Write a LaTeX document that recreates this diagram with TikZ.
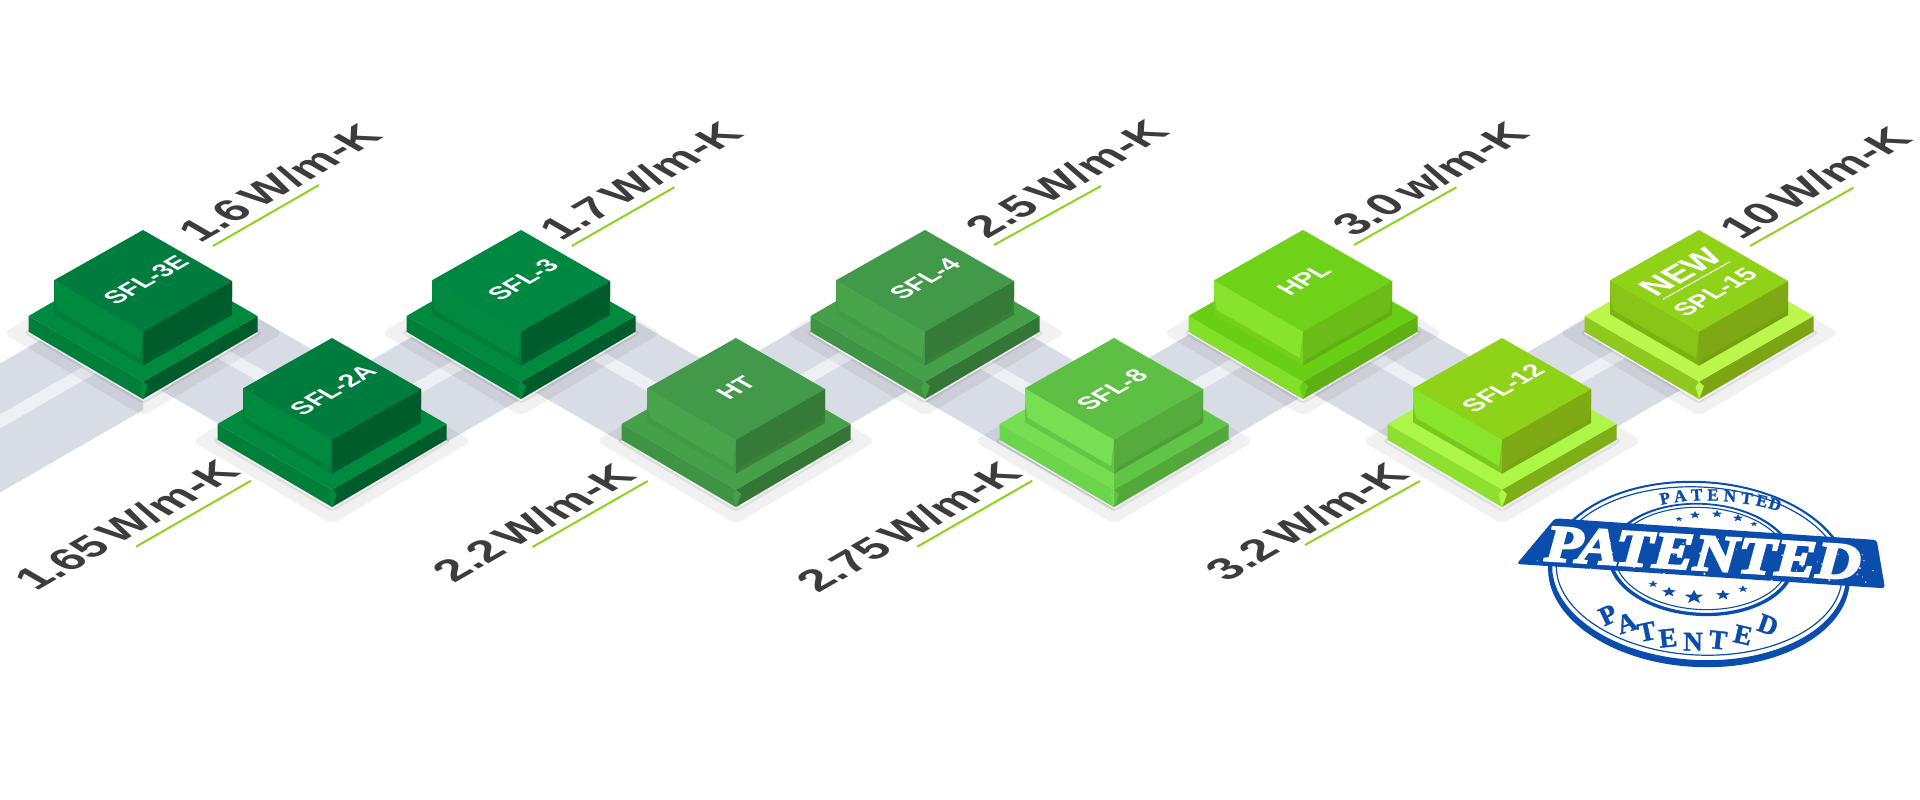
\documentclass[tikz,border=0pt]{standalone}
\usepackage{fontspec}
\setmainfont{Liberation Sans}
\newfontfamily\stampfat{Liberation Serif}[BoldItalicFeatures={FakeBold=4}]
\newfontfamily\stampslab{Liberation Serif}[BoldFeatures={FakeBold=1.5}]
\usetikzlibrary{shapes.geometric}
\definecolor{bandc}{HTML}{D8DCE5}
\definecolor{stripec}{HTML}{EDF0F5}
\definecolor{labelc}{HTML}{3C3C3C}
\definecolor{linec}{HTML}{8FD21E}
\definecolor{stampc}{HTML}{0A4DAD}
\newcommand{\wfont}{\fontsize{42.5}{42.5}\selectfont\bfseries\setlength{\spaceskip}{6.5pt}}
\tikzset{
  iso/.style={cm={.866,.5,-.866,.5,(0,0)},transform shape,inner sep=0pt},
  wlabel/.style={cm={.92,.531,-.866,.5,(0,0)},transform shape,inner sep=0pt,anchor=base east,text=labelc,font=\wfont},
  blabel/.style={iso,anchor=center,text=white,font=\fontsize{25}{25}\selectfont\bfseries},
  gline/.style={draw=linec,line width=2pt},
  lightshadow/.style={fill=black,fill opacity=.055,rounded corners=7pt},
  darkshadow/.style={fill=black,fill opacity=.07,rounded corners=4pt},
  stampletter/.style={inner sep=0pt,text=stampc},
  stampstar/.style={star,star points=5,star point ratio=2.4,fill=stampc,inner sep=0pt,yscale=.72,transform shape},
}
% palette: top, left, left skirt, right, right skirt, base top left, base top right, base left, base right
\newcommand{\setpal}[2][]{\setpalx#2}
\def\setpalx#1,#2,#3,#4,#5,#6,#7,#8,#9;{%
  \definecolor{pTop}{HTML}{#1}\definecolor{pL}{HTML}{#2}\definecolor{pLs}{HTML}{#3}%
  \definecolor{pR}{HTML}{#4}\definecolor{pRs}{HTML}{#5}\definecolor{pBtl}{HTML}{#6}%
  \definecolor{pBtr}{HTML}{#7}\definecolor{pBl}{HTML}{#8}\definecolor{pBr}{HTML}{#9}}
\newcommand{\blockshadow}[2]{%
  \begin{scope}[shift={(#1,#2)}]
    \path[lightshadow] (-140,103)--(0,20)--(140,103)--(0,186)--cycle;
    \path[darkshadow] (-120,103)--(0,32)--(120,103)--(0,174)--cycle;
  \end{scope}}
\newcommand{\blockbody}[2]{%
  \begin{scope}[shift={(#1,#2)}]
    \draw[white,line width=1pt] (-114.5,102.8)--(0,170.3)--(114.5,102.8);
    % base
    \fill[pBl] (-114.5,86)--(0,151.7)--(0,169)--(-114.5,101.7)--cycle;
    \fill[pBr] (114.5,86)--(0,151.7)--(0,169)--(114.5,101.7)--cycle;
    \fill[pBtl] (-114.5,86)--(0,20)--(0,151.7)--cycle;
    \fill[pBtr] (114.5,86)--(0,20)--(0,151.7)--cycle;
    \fill[pBtl] (0,151.7)--(-3.5,157)--(0,169)--cycle;
    \fill[pBtr] (0,151.7)--(5,156)--(1,167)--(0,169)--cycle;
    % upper block
    \fill[pLs] (-89,50.3)--(0,101.7)--(0,135.7)--(-89,84.3)--cycle;
    \fill[pL] (-89,50.3)--(-89,65)--(-86,80)--(-3,128)--(0,101.7)--cycle;
    \fill[pRs] (89,51)--(0,101.7)--(0,135.7)--(89,85)--cycle;
    \fill[pR] (0,101.7)--(89,51)--(89,67)--(86,82)--(4,129)--(0,135.7)--cycle;
    \fill[pTop] (0,0)--(-89,50.3)--(0,101.7)--(89,51)--cycle;
  \end{scope}}
\newcommand{\bandseg}[6]{% x1 y1 x2 y2 upper lower
  \pgfmathsetmacro{\bdx}{(#3-#1)}
  \pgfmathsetmacro{\bsg}{(#4>#2)?0.577:-0.577}
  \pgfmathsetmacro{\by}{\bsg*\bdx}
  \pgfmathsetmacro{\bmid}{(#5+#6)/2-8}
  \fill[bandc] (#1,#2+#5)--(#3,#2+#5+\by)--(#3,#2+#6+\by)--(#1,#2+#6)--cycle;
  \fill[stripec] (#1,#2+\bmid-7)--(#3,#2+\bmid-7+\by)--(#3,#2+\bmid+7+\by)--(#1,#2+\bmid+7)--cycle;
}
\begin{document}
\begin{tikzpicture}[x=1pt,y=-1pt]
\path[use as bounding box,fill=white] (0,0) rectangle (1920,800);
% bands
\fill[bandc] (0,363.5)--(143,281)--(143,410)--(137,413.5)--(0,492.5)--cycle;
\fill[stripec] (0,414.5)--(143,332)--(143,346)--(0,428.5)--cycle;
\bandseg{143}{230}{332}{338}{22}{150}
\bandseg{332}{338}{521}{230}{45}{170}
\bandseg{521}{230}{736}{338}{25}{154}
\bandseg{736}{338}{925}{230}{26}{152}
\bandseg{925}{230}{1114}{338}{45}{171}
\bandseg{1114}{338}{1303}{230}{40}{167}
\bandseg{1303}{230}{1502}{338}{30}{158}
\bandseg{1502}{338}{1699}{230}{29}{155}
% shadows
\foreach \sx/\sy in {143/230,332/338,521/230,736/338,925/230,1114/338,1303/230,1502/338,1699/230}{\blockshadow{\sx}{\sy}}
% blocks
\setpal{007C3E,008A3F,007D3A,005C2A,006030,008A3F,008A3F,007F3A,005C2A;}
\blockbody{143}{230}
\blockbody{332}{338}
\setpal{008741,00893F,007D3A,005C2A,006030,008A3F,008A3F,007F3A,005C2A;}
\blockbody{521}{230}
\setpal{43994A,49A54C,419A44,367A38,3A8039,46A04A,46A04A,3F9444,347635;}
\blockbody{736}{338}
\blockbody{925}{230}
\setpal{5DC044,77E052,62C747,55AB3C,4F9F37,76DE50,60C547,6BD64B,53A83A;}
\blockbody{1114}{338}
\setpal{6FD219,88E32C,74D01D,6BBC17,63AE14,69CF15,68D014,82E029,5FB012;}
\blockbody{1303}{230}
\setpal{8FD318,89E42C,78C81E,7FAA15,77A513,ACF648,ACF648,8EE030,7EAF17;}
\blockbody{1502}{338}
\setpal{90D217,8AC418,7CB313,7EA915,75A012,BCF54C,BCF54C,8FC91E,7CA514;}
\blockbody{1699}{230}
% block labels
\node[blabel] (n3e) at (146,280) {SFL-3E};
\node[blabel] (n2a) at (333,390) {SFL-2A};
\node[blabel] (n3) at (523,280) {SFL-3};
\node[blabel] (nht) at (736,388) {HT};
\node[blabel] (n4) at (925,279) {SFL-4};
\node[blabel] (n8) at (1112,390) {SFL-8};
\node[blabel] (nhpl) at (1304,280) {HPL};
\node[blabel] (n12) at (1503,388) {SFL-12};
\node[blabel,font=\fontsize{34}{34}\selectfont\bfseries] (nnew) at (1681,272) {NEW};
\node[blabel] (n15) at (1715,292) {SPL-15};
\coordinate (nla) at (1663,299.3);
\coordinate (nlb) at (1730,261.7);
\draw[white,line width=1pt] (nla)--(nlb);
% value labels
\node[wlabel] (w1) at (385,137) {1.6 W/m-K};
\node[wlabel] (w2) at (746,135) {1.7 W/m-K};
\node[wlabel] (w3) at (1172,133) {2.5 W/m-K};
\node[wlabel] (w4) at (1532,135) {3.0 w/m-K};
\node[wlabel] (w5) at (1915,140) {10 W/m-K};
\node[wlabel] (w6) at (243,473) {1.65 W/m-K};
\node[wlabel] (w7) at (639,477) {2.2 W/m-K};
\node[wlabel] (w8) at (1025,475) {2.75 W/m-K};
\node[wlabel] (w9) at (1412,476) {3.2 W/m-K};
% green lines
\foreach \i/\xa/\ya/\xb/\yb in {1/213/246/319/185,2/571.7/246/674.3/187.3,3/994/245/1101/186,4/1354/245/1456.4/187.3,5/1750/246/1853.5/187.7,6/136/546.7/251/480.7,7/532.6/547/647.7/481,8/917.3/546.7/1032.3/480.7,9/1305/545/1420/481}{
  \coordinate (ga\i) at (\xa,\ya);
  \coordinate (gb\i) at (\xb,\yb);
  \path[gline] (ga\i)--(gb\i);
}
% stamp rings
\begin{scope}[shift={(1699,574)},rotate=-3]
  \fill[stampc,even odd rule] (0,0) ellipse [x radius=151,y radius=93]
     (0,-2.5) ellipse [x radius=147,y radius=88.5];
  \draw[stampc,line width=1.2pt] (0,-3) ellipse [x radius=143,y radius=84];
\end{scope}
\begin{scope}[shift={(1701.5,559.5)},rotate=-3]
  \fill[stampc,even odd rule] (0,0) ellipse [x radius=93.5,y radius=56.5]
     (0,-.75) ellipse [x radius=90,y radius=54];
  \draw[stampc,line width=1.1pt] (0,-1) ellipse [x radius=87,y radius=51];
\end{scope}
% stamp banner
\fill[stampc,rounded corners=3pt] (1516.7,564)--(1555,518.3)--(1876.7,540)--(1885,588.3)--cycle;
\node[inner sep=0pt,text=white,rotate=-3.5,xscale=1.18,transform shape,font=\fontsize{52}{52}\stampfat\bfseries\itshape] (pat) at (1703,553) {PATENTED};
% stamp curved words
\foreach \ch/\lx/\ly/\lr [count=\i] in {P/1665/498.3/12,A/1680/496/8,T/1696.7/495/4,E/1713/495/0,N/1730/496/-4,T/1746.7/498.3/-8,E/1762/501/-13,D/1775/504.3/-17}{
  \node[stampletter,rotate=\lr,font=\fontsize{17}{17}\stampslab\bfseries] (tp\i) at (\lx,\ly) {\ch};
}
\foreach \ch/\lx/\ly/\lr [count=\i] in {P/1608/615/25,A/1626.7/623/18,T/1646.7/631.7/12,E/1668/638/6,N/1693/641.7/0,T/1718/640/-6,E/1743/635/-13,D/1768/625/-20}{
  \node[stampletter,rotate=\lr,font=\fontsize{27}{27}\stampslab\bfseries] (bp\i) at (\lx,\ly) {\ch};
}
% stamp stars
\foreach \sx/\sy/\sz [count=\i] in {1679/519/7,1695/515/11,1717/514/11,1738/518/11,1754/524/7,1653/584/10,1669/592/15,1694/597/20,1723/595/15,1743/589/10}{
  \node[stampstar,minimum size=\sz pt] (st\i) at (\sx,\sy) {};
}
% stamp wear
\pgfmathsetseed{42}
\foreach \i in {1,...,60}{
  \pgfmathsetmacro{\ft}{rnd}
  \pgfmathsetmacro{\fx}{1525+350*\ft}
  \pgfmathsetmacro{\fy}{525+24*\ft+rnd*50}
  \pgfmathsetmacro{\fr}{.4+rnd*.8}
  \fill[white] (\fx,\fy) circle [radius=\fr];
}
\end{tikzpicture}
\end{document}
